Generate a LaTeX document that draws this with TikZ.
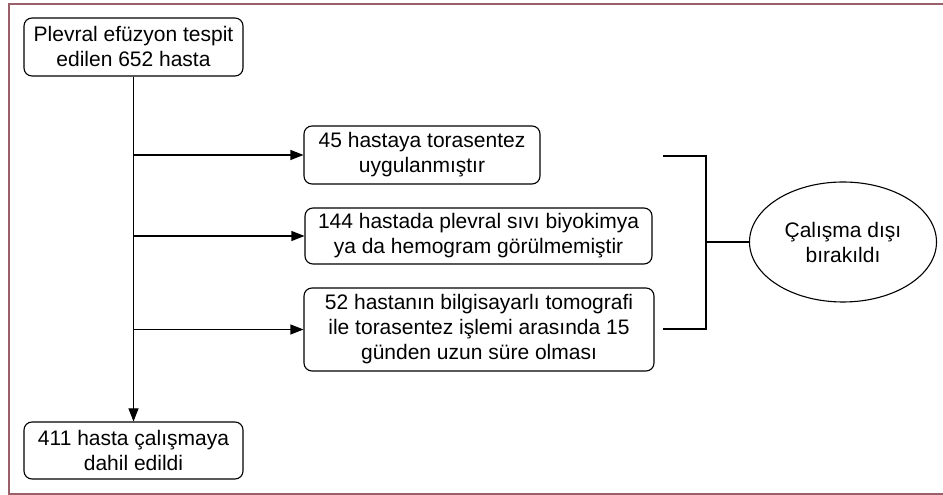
\documentclass[tikz,border=0pt]{standalone}
\usepackage{fontspec}
\setmainfont{Liberation Sans}
\usetikzlibrary{calc,shapes.geometric,arrows.meta}
\definecolor{framered}{RGB}{155,95,105}

\begin{document}
\begin{tikzpicture}[x=1pt,y=1pt,font=\fontsize{21}{25}\selectfont]
\tikzset{
% Two node styles for the flow chart: rounded boxes and the ellipse
step box/.style={draw,rounded corners=8pt,align=center,inner sep=0pt,line width=1.1pt,minimum height=58pt},
end node/.style={draw,ellipse,align=center,inner sep=0pt,line width=1.1pt,minimum width=187pt,minimum height=120pt},
flow/.style={line width=1.1pt,-{Triangle[length=13pt,width=10pt]}},
plain line/.style={line width=1.1pt}
}
\useasboundingbox (0,0) rectangle (943,495);

% Frame round the chart
\draw[framered,line width=1.6pt] (943,491) -- (9,491) -- (9,1) -- (943,1);

% The boxes
\node(top)[step box,minimum width=219pt] at (133.5,448) {Plevral efüzyon tespit\\edilen 652 hasta};
\node(n45)[step box,minimum width=236pt] at (422,340) {45 hastaya torasentez\\uygulanmıştır};
\node(n144)[step box,minimum width=347pt,minimum height=56pt] at (478.5,259) {144 hastada plevral sıvı biyokimya\\ya da hemogram görülmemiştir};
\node(n52)[step box,minimum width=350pt,minimum height=83pt] at (479,165.5) {52 hastanın bilgisayarlı tomografi\\ile torasentez işlemi arasında 15\\günden uzun süre olması};
\node(dahil)[step box,minimum width=219pt,minimum height=57pt] at (133.5,44.5) {411 hasta çalışmaya\\dahil edildi};
\node(out)[end node] at (843,253) {Çalışma dışı\\bırakıldı};

% Arrows from the main line
\draw[flow] (top) -- (dahil);
\draw[flow] (top.south |- n45) -- (n45);
\draw[flow] (top.south |- n144) -- (n144);
\draw[flow] (top.south |- n52) -- (n52);

% bracket to the excluded patients
\coordinate (b1) at (663,339);
\coordinate (b2) at (663,166);
\coordinate (bm) at (706,253);
\draw[plain line] (b1) -| (bm) |- (b2);
\draw[plain line] (bm) -- (out);
\end{tikzpicture}
\end{document}
